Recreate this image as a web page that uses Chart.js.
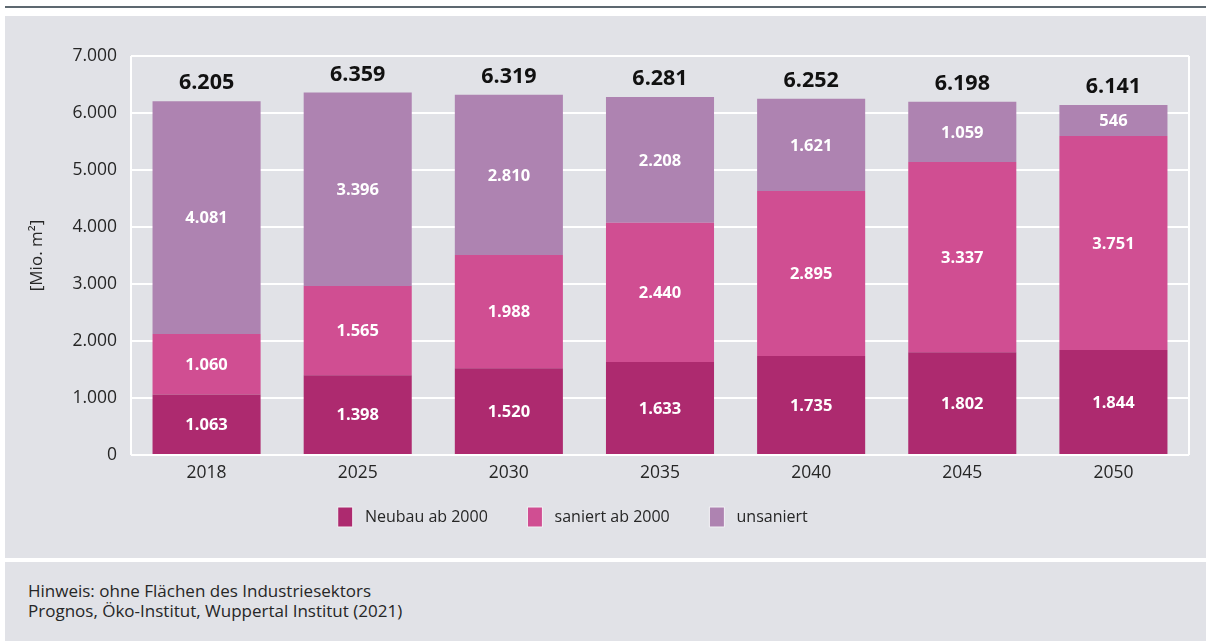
<!DOCTYPE html>
<html lang="de">
<head>
<meta charset="utf-8">
<script src="https://cdn.jsdelivr.net/npm/chart.js@4.4.1/dist/chart.umd.min.js"></script>
<style>
  html, body { margin: 0; padding: 0; background: #ffffff; width: 1206px; height: 641px; overflow: hidden; }
  #topline { position: absolute; left: 5px; top: 6px; width: 1201px; height: 2px; background: #5d6870; }
  #panel { position: absolute; left: 5px; top: 16px; width: 1201px; height: 542px; background: #e1e2e7; }
  #footer { position: absolute; left: 5px; top: 562px; width: 1201px; height: 79px; background: #e1e2e7;
            font-family: "Open Sans", sans-serif; font-size: 17px; color: #262626; line-height: 20px; }
  #footer div.txt { position: absolute; left: 23px; top: 19px; }
</style>
</head>
<body>
<div id="topline"></div>
<div id="panel"><canvas id="c" width="1201" height="542"></canvas></div>
<div id="footer"><div class="txt">Hinweis: ohne Flächen des Industriesektors<br>Prognos, Öko-Institut, Wuppertal Institut (2021)</div></div>
<script>
const categories = ["2018", "2025", "2030", "2035", "2040", "2045", "2050"];
const seriesNames = ["Neubau ab 2000", "saniert ab 2000", "unsaniert"];
const neubau = [1063, 1398, 1520, 1633, 1735, 1802, 1844];
const saniert = [1060, 1565, 1988, 2440, 2895, 3337, 3751];
const unsaniert = [4081, 3396, 2810, 2208, 1621, 1059, 546];
const totals = [6205, 6359, 6319, 6281, 6252, 6198, 6141];
const yTicks = [0, 1000, 2000, 3000, 4000, 5000, 6000, 7000];

const colors = ["#ad2a6f", "#d04e92", "#ae83b1"];
const FONT = '"Open Sans", sans-serif';

function fmt(v) {
  return String(Math.round(v)).replace(/\B(?=(\d{3})+(?!\d))/g, ".");
}

// target text widths (incl. spacing) for legend items
const legendTextTargets = [144, 137, 142];

function padText(ctx, text, target) {
  let s = " " + text;
  while (ctx.measureText(s + " ").width <= target + 2) s += " ";
  return s;
}

const frameAndLabels = {
  id: "frameAndLabels",
  beforeDatasetsDraw(chart) {
    const {ctx, chartArea: a} = chart;
    ctx.save();
    ctx.strokeStyle = "#ffffff";
    ctx.lineWidth = 2;
    ctx.beginPath();
    ctx.moveTo(a.left, a.top); ctx.lineTo(a.left, a.bottom);
    ctx.moveTo(a.right, a.top); ctx.lineTo(a.right, a.bottom);
    ctx.stroke();
    ctx.restore();
  },
  afterDatasetsDraw(chart) {
    const {ctx} = chart;
    ctx.save();
    ctx.textAlign = "center";
    ctx.textBaseline = "middle";
    ctx.fillStyle = "#ffffff";
    ctx.font = "bold 16.5px " + FONT;
    chart.data.datasets.forEach((ds, di) => {
      const meta = chart.getDatasetMeta(di);
      meta.data.forEach((el, i) => {
        const y = (el.y + el.base) / 2;
        ctx.fillText(fmt(ds.data[i]), el.x, y + 1);
      });
    });
    const top = chart.getDatasetMeta(chart.data.datasets.length - 1);
    ctx.fillStyle = "#111111";
    ctx.font = "bold 21.5px " + FONT;
    top.data.forEach((el, i) => {
      ctx.fillText(fmt(totals[i]), el.x, el.y - 18);
    });
    ctx.restore();
  }
};

const datasets = [neubau, saniert, unsaniert].map((d, i) => ({
  label: seriesNames[i],
  data: d,
  backgroundColor: colors[i],
  borderWidth: 0,
  categoryPercentage: 1.0,
  barPercentage: 0.715
}));

const chart = new Chart(document.getElementById("c"), {
  type: "bar",
  data: { labels: categories, datasets },
  plugins: [frameAndLabels],
  options: {
    responsive: false,
    animation: false,
    devicePixelRatio: 1,
    layout: { padding: { left: 18, right: 17, top: 40, bottom: 21 } },
    scales: {
      x: {
        stacked: true,
        grid: { display: false },
        border: { display: false },
        ticks: { color: "#262626", padding: 0, font: { family: FONT, size: 17.5 } }
      },
      y: {
        stacked: true,
        min: 0, max: 7000,
        afterBuildTicks(scale) { scale.ticks = yTicks.map(v => ({ value: v })); },
        afterFit(scale) { scale.width = 108; },
        grid: { color: "#ffffff", lineWidth: 2, drawTicks: false },
        border: { display: false },
        ticks: { color: "#262626", padding: 14, font: { family: FONT, size: 17.5 }, callback: v => fmt(v) },
        title: { display: true, text: "[Mio. m²]", color: "#262626", font: { family: FONT, size: 17 } }
      }
    },
    plugins: {
      tooltip: { enabled: false },
      legend: {
        position: "bottom",
        align: "center",
        labels: {
          boxWidth: 15,
          boxHeight: 20,
          padding: 23,
          color: "#262626",
          font: { family: FONT, size: 16 },
          generateLabels(ch) {
            const ctx = ch.ctx;
            ctx.save();
            ctx.font = "16px " + FONT;
            const items = ch.data.datasets.map((ds, i) => ({
              text: padText(ctx, ds.label, legendTextTargets[i]),
              fillStyle: ds.backgroundColor,
              strokeStyle: "#f2f2f5",
              lineWidth: 1,
              hidden: false,
              datasetIndex: i,
              fontColor: "#262626"
            }));
            ctx.restore();
            return items;
          }
        }
      }
    }
  }
});
</script>
</body>
</html>
